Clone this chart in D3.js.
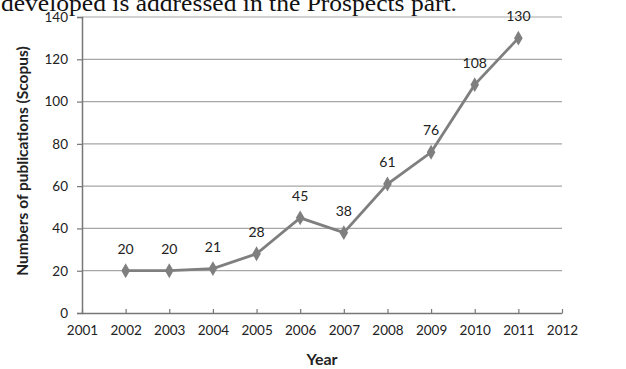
<!DOCTYPE html>
<html>
<head>
<meta charset="utf-8">
<script src="https://cdn.jsdelivr.net/npm/d3@7"></script>
<style>
  body { margin: 0; background: #fff; }
  svg { display: block; }
</style>
</head>
<body>
<div id="chart"></div>
<script>
// publications per year (Scopus)
var years = [2002, 2003, 2004, 2005, 2006, 2007, 2008, 2009, 2010, 2011];
var pubs = [20, 20, 21, 28, 45, 38, 61, 76, 108, 130];
var xTicks = [2001, 2002, 2003, 2004, 2005, 2006, 2007, 2008, 2009, 2010, 2011, 2012];
var yTicks = [0, 20, 40, 60, 80, 100, 120, 140];

var svg = d3.select("#chart").append("svg").attr("width", 626).attr("height", 369),
  margin = {top: 17, right: 64, bottom: 56, left: 82},
  width = +svg.attr("width") - margin.left - margin.right,
  height = +svg.attr("height") - margin.top - margin.bottom,
  g = svg.append("g").attr("transform", "translate(" + margin.left + "," + margin.top + ")");

// cut-off caption line from the page above
svg.append("text")
  .attr("x", 1)
  .attr("y", 11)
  .attr("textLength", 456)
  .attr("lengthAdjust", "spacingAndGlyphs")
  .style("font", "24px 'Liberation Serif', serif")
  .style("fill", "#111")
  .text("developed is addressed in the Prospects part.");

var x = d3.scaleLinear().domain([2001, 2012]).range([0, width]);
var y = d3.scaleLinear().domain([0, 140]).range([height, 0]);

// gridlines
g.selectAll(".grid")
  .data(yTicks.slice(1))
  .enter().append("line")
  .attr("class", "grid")
  .attr("x1", 0).attr("x2", width)
  .attr("y1", function (d) { return y(d); })
  .attr("y2", function (d) { return y(d); })
  .style("stroke", "#a6a6a6")
  .style("stroke-width", 1.2);

var yAxis = g.append("g")
  .call(d3.axisLeft(y).tickValues(yTicks).tickSize(5).tickPadding(9));
var xAxis = g.append("g")
  .attr("transform", "translate(0," + height + ")")
  .call(d3.axisBottom(x).tickValues(xTicks).tickFormat(d3.format("d")).tickSizeInner(-4).tickSizeOuter(0).tickPadding(12));

[yAxis, xAxis].forEach(function (a) {
  a.select(".domain").style("stroke", "#777").style("stroke-width", 1.5);
  a.selectAll(".tick line").style("stroke", "#777").style("stroke-width", 1.2);
  a.selectAll("text").style("font", "13.5px Lato, 'Open Sans', sans-serif").style("fill", "#222");
});

var data = years.map(function (yr, i) { return {year: yr, value: pubs[i]}; });

var line = d3.line()
  .x(function (d) { return x(d.year); })
  .y(function (d) { return y(d.value); });

g.append("path")
  .datum(data)
  .attr("d", line)
  .style("fill", "none")
  .style("stroke", "#7f7f7f")
  .style("stroke-width", 2.8);

g.selectAll(".pt")
  .data(data)
  .enter().append("path")
  .attr("class", "pt")
  .attr("d", d3.symbol().type(d3.symbolDiamond).size(64))
  .attr("transform", function (d) { return "translate(" + x(d.year) + "," + y(d.value) + ")"; })
  .style("fill", "#7f7f7f");

g.selectAll(".lbl")
  .data(data)
  .enter().append("text")
  .attr("class", "lbl")
  .attr("x", function (d) { return x(d.year); })
  .attr("y", function (d) { return y(d.value) - 17; })
  .attr("text-anchor", "middle")
  .style("font", "14px Lato, 'Open Sans', sans-serif")
  .style("fill", "#222")
  .text(function (d) { return d.value; });

svg.append("text")
  .attr("transform", "translate(28,161) rotate(-90)")
  .attr("text-anchor", "middle")
  .style("font", "bold 15.5px Lato, 'Open Sans', sans-serif")
  .style("fill", "#222")
  .text("Numbers of publications (Scopus)");

svg.append("text")
  .attr("x", margin.left + width / 2)
  .attr("y", 365)
  .attr("text-anchor", "middle")
  .style("font", "bold 16px Lato, 'Open Sans', sans-serif")
  .style("fill", "#222")
  .text("Year");
</script>
</body>
</html>
